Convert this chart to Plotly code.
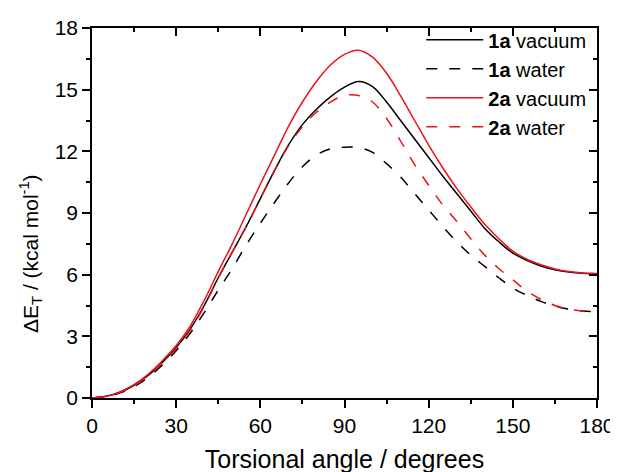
import plotly.graph_objects as go

angles = list(range(0, 181, 5))

vac_1a = [0, 0.08, 0.28, 0.62, 1.1, 1.72, 2.45, 3.35, 4.5, 5.85, 7.1, 8.35, 9.7, 11.05,
          12.3, 13.3, 14.05, 14.65, 15.12, 15.4, 15.15, 14.4, 13.5, 12.6, 11.7, 10.8,
          9.95, 9.1, 8.25, 7.6, 7.05, 6.7, 6.42, 6.24, 6.13, 6.07, 6.05]
wat_1a = [0, 0.07, 0.25, 0.55, 1.0, 1.6, 2.3, 3.15, 4.15, 5.25, 6.3, 7.45, 8.5, 9.5,
          10.45, 11.25, 11.82, 12.12, 12.2, 12.18, 11.95, 11.4, 10.75, 9.95, 9.15, 8.35,
          7.6, 6.95, 6.4, 5.85, 5.35, 5.0, 4.7, 4.47, 4.32, 4.23, 4.19]
vac_2a = [0, 0.08, 0.3, 0.65, 1.15, 1.8, 2.55, 3.5, 4.75, 6.15, 7.5, 8.95, 10.4, 11.8,
          13.2, 14.4, 15.4, 16.2, 16.72, 16.92, 16.58, 15.8, 14.7, 13.5, 12.3, 11.2,
          10.2, 9.3, 8.45, 7.75, 7.15, 6.75, 6.48, 6.28, 6.15, 6.08, 6.06]
wat_2a = [0, 0.08, 0.28, 0.6, 1.08, 1.7, 2.4, 3.3, 4.45, 5.85, 7.1, 8.35, 9.7, 11.05,
          12.25, 13.2, 13.9, 14.4, 14.72, 14.72, 14.4, 13.6, 12.5, 11.35, 10.35, 9.4,
          8.6, 7.75, 6.95, 6.3, 5.75, 5.2, 4.8, 4.5, 4.32, 4.22, 4.18]

series = [
    ("<b>1a</b> vacuum", vac_1a, "black", "solid"),
    ("<b>1a</b> water", wat_1a, "black", "11px,12px"),
    ("<b>2a</b> vacuum", vac_2a, "#e8141b", "solid"),
    ("<b>2a</b> water", wat_2a, "#e8141b", "11px,12px"),
]

x_ticks = [0, 30, 60, 90, 120, 150, 180]
y_ticks = [0, 3, 6, 9, 12, 15, 18]
x_title = "Torsional angle / degrees"
y_title = "ΔE<sub>T</sub> / (kcal mol<sup>-1</sup>)"

fig = go.Figure()
for name, vals, color, dash in series:
    fig.add_trace(go.Scatter(x=angles, y=vals, mode="lines", name=name,
                             line=dict(color=color, width=1.5, dash=dash, shape="spline", smoothing=1.0)))

# invisible companion trace so the mirrored (top/right) tick axes get drawn
fig.add_trace(go.Scatter(x=angles, y=vac_1a, mode="lines", xaxis="x2", yaxis="y2",
                         line=dict(color="rgba(0,0,0,0)", width=0), showlegend=False,
                         hoverinfo="skip"))

font = "Liberation Sans, Arial, sans-serif"
axis_common = dict(showgrid=False, zeroline=False, linecolor="black", linewidth=1.5,
                   tickcolor="black", tickwidth=1.5, ticklen=8, automargin=False,
                   tickfont=dict(family=font, size=21, color="black"))

fig.update_layout(
    width=618, height=472,
    margin=dict(l=84, r=29, t=15, b=82),
    paper_bgcolor="white", plot_bgcolor="white",
    font=dict(family=font, color="black"),
    showlegend=True,
    legend=dict(x=0.652, y=1.021, xanchor="left", yanchor="top",
                bgcolor="rgba(0,0,0,0)", font=dict(family=font, size=20, color="black"),
                tracegroupgap=0, itemwidth=57),
    xaxis=dict(range=[0, 180], tickvals=x_ticks, ticktext=[str(v) for v in x_ticks],
               ticks="outside", showline=True, mirror=True,
               minor=dict(ticks="outside", dtick=15, ticklen=4, tickwidth=1.5, tickcolor="black"),
               title=dict(text=x_title, font=dict(family=font, size=25), standoff=15),
               **axis_common),
    yaxis=dict(range=[0, 18], tickvals=y_ticks, ticktext=[str(v) for v in y_ticks],
               ticks="outside", showline=True, mirror=True,
               minor=dict(ticks="outside", dtick=1.5, ticklen=4, tickwidth=1.5, tickcolor="black"),
               **axis_common),
    xaxis2=dict(range=[0, 180], overlaying="x", side="top", anchor="y2",
                tickvals=x_ticks, ticks="inside", showticklabels=False, showline=False,
                showgrid=False, zeroline=False, ticklen=8, tickwidth=1.5, tickcolor="black",
                automargin=False,
                minor=dict(ticks="inside", dtick=15, ticklen=4, tickwidth=1.5, tickcolor="black")),
    yaxis2=dict(range=[0, 18], overlaying="y", side="right", anchor="x2",
                tickvals=y_ticks, ticks="inside", showticklabels=False, showline=False,
                showgrid=False, zeroline=False, ticklen=8, tickwidth=1.5, tickcolor="black",
                automargin=False,
                minor=dict(ticks="inside", dtick=1.5, ticklen=4, tickwidth=1.5, tickcolor="black")),
    annotations=[dict(text=y_title, textangle=-90, xref="paper", yref="paper",
                      x=-0.1228, y=0.5, xanchor="center", yanchor="middle", showarrow=False,
                      yshift=-40,
                      font=dict(family=font, size=21, color="black"))],
)

fig.write_html("out.html")
